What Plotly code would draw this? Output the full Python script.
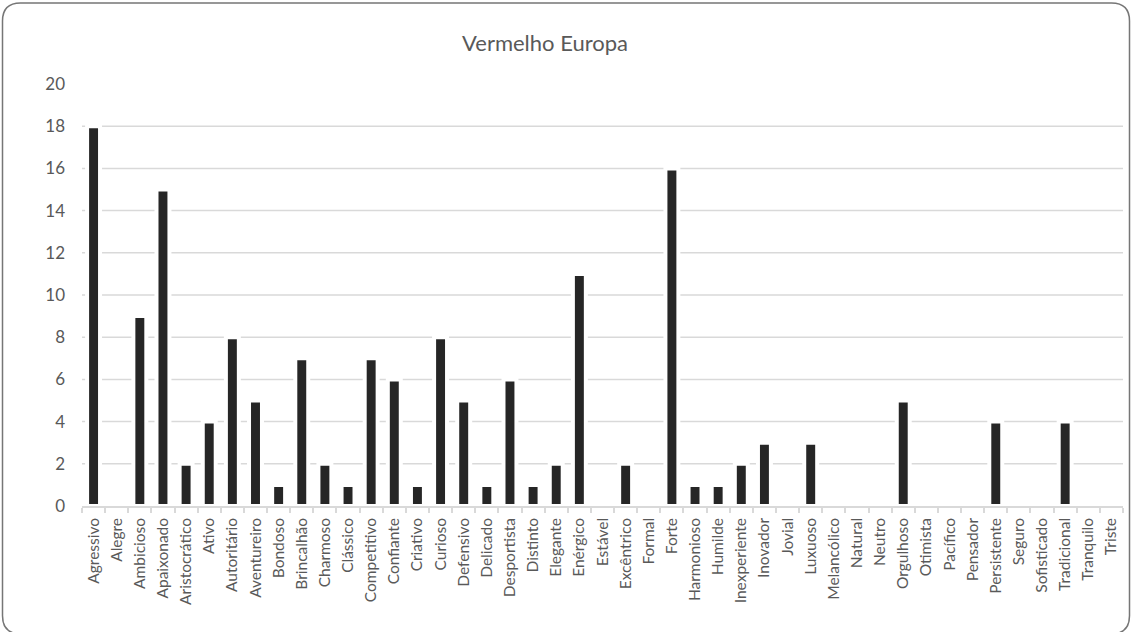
import plotly.graph_objects as go

categories = ["Agressivo", "Alegre", "Ambicioso", "Apaixonado", "Aristocrático", "Ativo", "Autoritário",
              "Aventureiro", "Bondoso", "Brincalhão", "Charmoso", "Clássico", "Competitivo", "Confiante",
              "Criativo", "Curioso", "Defensivo", "Delicado", "Desportista", "Distinto", "Elegante",
              "Enérgico", "Estável", "Excêntrico", "Formal", "Forte", "Harmonioso", "Humilde",
              "Inexperiente", "Inovador", "Jovial", "Luxuoso", "Melancólico", "Natural", "Neutro",
              "Orgulhoso", "Otimista", "Pacífico", "Pensador", "Persistente", "Seguro", "Sofisticado",
              "Tradicional", "Tranquilo", "Triste"]
values = [18, 0, 9, 15, 2, 4, 8, 5, 1, 7, 2, 1, 7, 6, 1, 8, 5, 1, 6, 1, 2, 11, 0, 2, 0, 16, 1, 1, 2, 3,
          0, 3, 0, 0, 0, 5, 0, 0, 0, 4, 0, 0, 4, 0, 0]
y_ticks = [0, 2, 4, 6, 8, 10, 12, 14, 16, 18, 20]
title_text = "Vermelho Europa"

W, H = 1132, 632
ML, MR, MT, MB = 82, 9, 83.5, 126
pw, ph = W - ML - MR, H - MT - MB

def px(x):
    return (x - ML) / pw

def py(y):
    return (H - MB - y) / ph

fig = go.Figure(go.Bar(x=categories, y=values,
                       marker=dict(color="#262626", line=dict(width=4, color="white")),
                       hoverinfo="x+y"))

shapes = []
# gridlines (none at top value)
for t in y_ticks[1:-1]:
    shapes.append(dict(type="line", xref="paper", yref="y", x0=0, x1=1, y0=t, y1=t,
                       line=dict(color="#d9d9d9", width=1.5), layer="below"))

# rounded frame
x0, x1, y0, y1, r = 2.5, W - 2.5, 2.5, H + 2, 18
path = (f"M {px(x0 + r)},{py(y0)} L {px(x1 - r)},{py(y0)} "
        f"Q {px(x1)},{py(y0)} {px(x1)},{py(y0 + r)} "
        f"L {px(x1)},{py(y1 - r)} Q {px(x1)},{py(y1)} {px(x1 - r)},{py(y1)} "
        f"L {px(x0 + r)},{py(y1)} Q {px(x0)},{py(y1)} {px(x0)},{py(y1 - r)} "
        f"L {px(x0)},{py(y0 + r)} Q {px(x0)},{py(y0)} {px(x0 + r)},{py(y0)} Z")
shapes.append(dict(type="path", xref="paper", yref="paper", path=path,
                   line=dict(color="#767676", width=1.5)))

fig.update_layout(
    width=W, height=H,
    margin=dict(l=ML, r=MR, t=MT, b=MB),
    paper_bgcolor="white", plot_bgcolor="white",
    font=dict(family="Lato", color="#595959", size=14),
    title=dict(text=title_text, x=545 / W, xanchor="center", y=1 - 43 / H, yanchor="middle",
               font=dict(size=22, color="#595959", family="Lato")),
    bargap=0.44,
    showlegend=False,
    shapes=shapes,
    xaxis=dict(tickangle=-90, tickfont=dict(size=15.5, color="#595959"), showgrid=False,
               showline=True, linecolor="#d9d9d9", linewidth=1.5,
               ticks="outside", tickson="boundaries", ticklen=5, tickcolor="#d9d9d9", tickwidth=1.5,
               ticklabelstandoff=4,
               range=[-0.5, len(categories) - 0.5]),
    yaxis=dict(range=[0, 20], tickvals=y_ticks, showgrid=False, zeroline=False,
               tickfont=dict(size=17, color="#595959"), ticks="", ticklabelstandoff=16),
)

fig.write_html("out.html", post_script="document.body.style.margin='0';",
               config={"displayModeBar": False})
